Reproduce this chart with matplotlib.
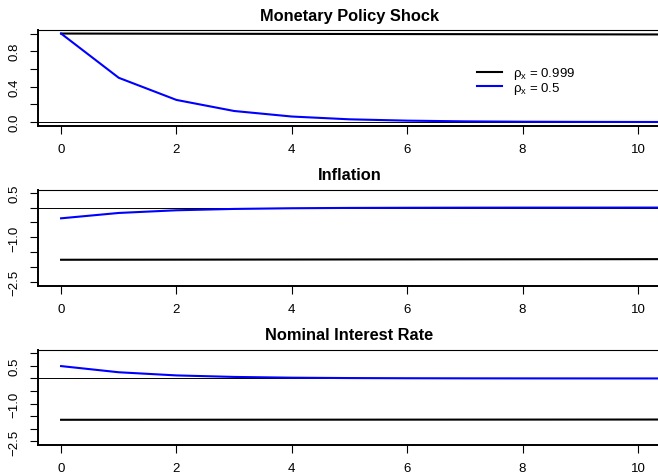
import matplotlib
matplotlib.use('Agg')
import matplotlib.pyplot as plt

plt.rcParams['font.family'] = ['Liberation Sans', 'DejaVu Sans']
plt.rcParams['mathtext.fontset'] = 'custom'
plt.rcParams['mathtext.rm'] = 'Liberation Sans'
plt.rcParams['mathtext.it'] = 'Liberation Sans'

# horizon (quarters)
periods = [0, 1, 2, 3, 4, 5, 6, 7, 8, 9, 10, 11]

# monetary policy shock
shock_persistent = [1.000, 0.999, 0.998, 0.997, 0.996, 0.995, 0.994, 0.993, 0.992, 0.991, 0.990, 0.989]
shock_transitory = [1.0, 0.5, 0.25, 0.125, 0.0625, 0.031, 0.016, 0.008, 0.004, 0.002, 0.001, 0.0005]

# inflation
infl_persistent = [-1.75, -1.748, -1.746, -1.744, -1.742, -1.740, -1.738, -1.736, -1.734, -1.732, -1.730, -1.728]
infl_transitory = [-0.36, -0.18, -0.09, -0.045, -0.022, -0.011, -0.006, -0.003, -0.001, -0.001, 0.0, 0.0]

# nominal interest rate
rate_persistent = [-1.64, -1.639, -1.638, -1.637, -1.636, -1.635, -1.634, -1.633, -1.632, -1.631, -1.630, -1.629]
rate_transitory = [0.49, 0.245, 0.12, 0.06, 0.03, 0.015, 0.008, 0.004, 0.002, 0.001, 0.0, 0.0]

labels = [r'$\rho_{\mathrm{x}}$ = 0.999', r'$\rho_{\mathrm{x}}$ = 0.5']

panels = [
    ('Monetary Policy Shock', shock_persistent, shock_transitory,
     (-0.04, 1.04), [0, 0.2, 0.4, 0.6, 0.8, 1.0], ['0.0', '', '0.4', '', '0.8', '']),
    ('Inflation', infl_persistent, infl_transitory,
     (-2.62, 0.6), [-2.5, -2.0, -1.5, -1.0, -0.5, 0.0, 0.5], ['\u22122.5', '', '', '\u22121.0', '', '', '0.5']),
    ('Nominal Interest Rate', rate_persistent, rate_transitory,
     (-2.64, 1.14), [-2.5, -2.0, -1.5, -1.0, -0.5, 0.0, 0.5, 1.0], ['\u22122.5', '', '', '\u22121.0', '', '', '0.5', '']),
]

W, H = 658, 477
fig = plt.figure(figsize=(W / 100, H / 100), dpi=100)

boxes = [(31, 126.6), (190.7, 286.7), (350.7, 446)]
left, right = 38, 661

for (title, pers, trans, ylim, yt, ytl), (top, bot) in zip(panels, boxes):
    ax = fig.add_axes([left / W, 1 - bot / H, (right - left) / W, (bot - top) / H])
    ax.axhline(0, color='black', lw=0.7)
    ax.plot(periods, pers, color='black', lw=1.5, label=labels[0])
    ax.plot(periods, trans, color='blue', lw=1.5, label=labels[1])
    ax.set_xlim(-0.4, 10.4)
    ax.set_ylim(*ylim)
    ax.set_xticks([0, 2, 4, 6, 8, 10])
    ax.set_yticks(yt)
    ax.set_yticklabels(ytl)
    for lbl in ax.get_yticklabels():
        lbl.set_rotation(90)
        lbl.set_va('center')
    ax.tick_params(direction='out', length=6, width=0.8, labelsize=9.5, pad=6.5)
    ax.spines['left'].set_linewidth(1.4)
    ax.spines['bottom'].set_linewidth(1.4)
    ax.spines['top'].set_linewidth(0.8)
    ax.spines['right'].set_linewidth(0.8)
    ax.set_title(title, fontsize=11.8, fontweight='bold', pad=7.5)
    if title == 'Monetary Policy Shock':
        ax.legend(loc='center left', bbox_to_anchor=((477 - left) / (right - left), (bot - 81.5) / (bot - top)),
                  frameon=False, fontsize=9.5, borderpad=0, borderaxespad=0,
                  handlelength=1.9, handletextpad=0.85, labelspacing=-0.1)

fig.savefig('out.png', dpi=100)
